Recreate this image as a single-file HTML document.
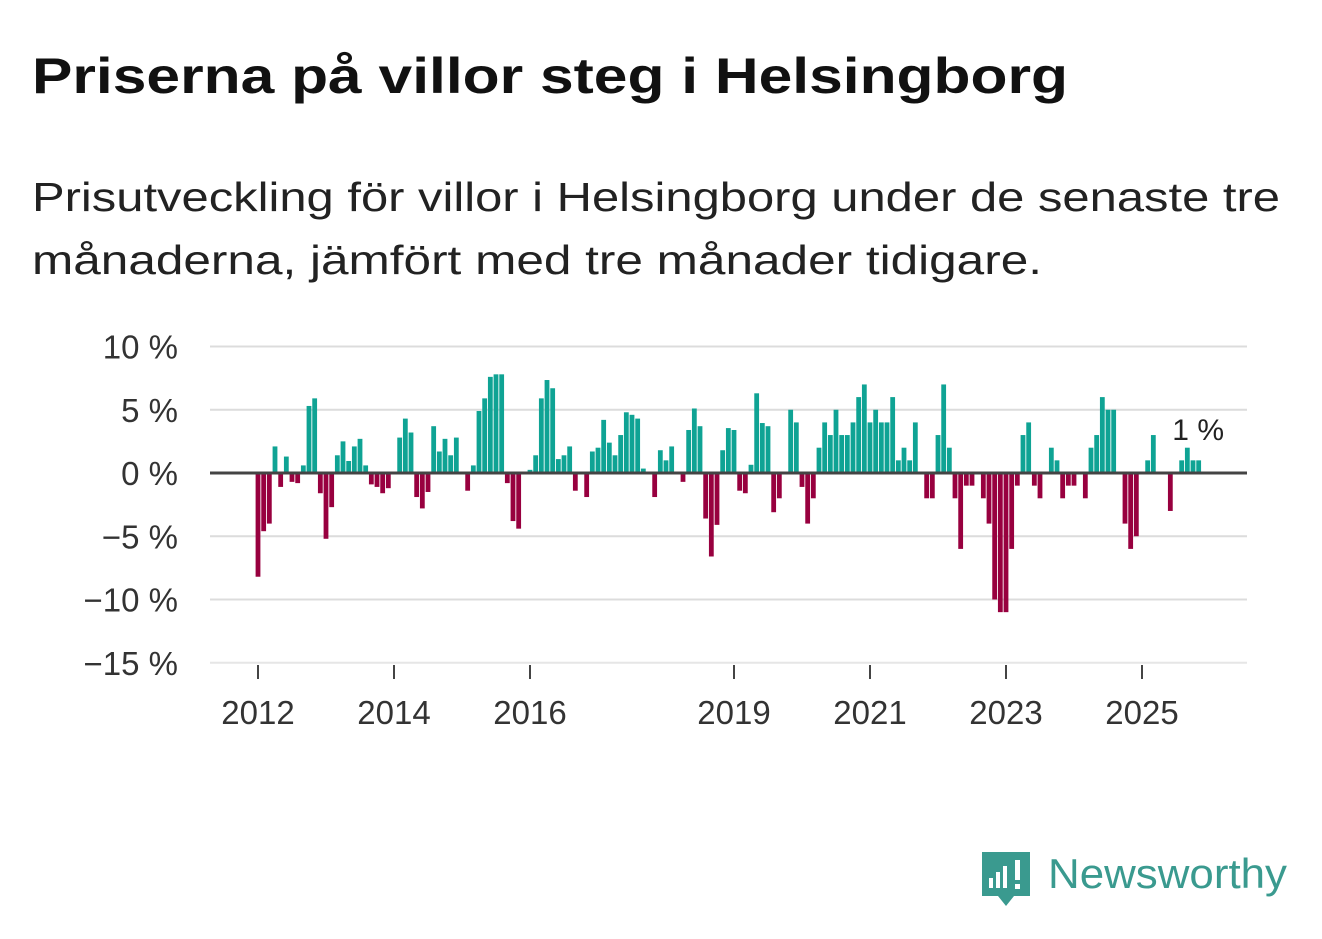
<!DOCTYPE html>
<html><head><meta charset="utf-8"><style>
body{margin:0;background:#fff;}
svg{display:block;font-family:"Liberation Sans",sans-serif;}
</style></head><body>
<svg id="chart" width="1322" height="939" viewBox="0 0 1322 939">
<text x="32" y="93" font-size="50" font-weight="bold" fill="#111" textLength="1036" lengthAdjust="spacingAndGlyphs">Priserna på villor steg i Helsingborg</text>
<text x="32" y="211" font-size="41" fill="#222" textLength="1248" lengthAdjust="spacingAndGlyphs">Prisutveckling för villor i Helsingborg under de senaste tre</text>
<text x="32" y="274" font-size="41" fill="#222" textLength="1010" lengthAdjust="spacingAndGlyphs">månaderna, jämfört med tre månader tidigare.</text>
<g id="grid"></g>
<g id="bars"></g>
<g id="axes"></g>
<text x="1224" y="440" font-size="30" fill="#222" text-anchor="end">1 %</text>
<g>
<path d="M982 852 h48 v44 h-16 l-8 10 l-8 -10 h-16 z" fill="#3a9a8f"/>
<rect x="989" y="878" width="4" height="10" fill="#fff"/>
<rect x="996" y="872" width="4" height="16" fill="#fff"/>
<rect x="1003" y="866" width="4" height="22" fill="#fff"/>
<rect x="1015" y="860" width="5" height="20" fill="#fff"/>
<rect x="1015" y="884" width="5" height="5" fill="#fff"/>
<text x="1048" y="888" font-size="42" fill="#3a9a8f" textLength="239" lengthAdjust="spacingAndGlyphs">Newsworthy</text>
</g>
</svg>
<script>
const values = [-8.2,-4.6,-4.0,2.1,-1.1,1.3,-0.7,-0.8,0.6,5.3,5.9,-1.6,-5.2,-2.7,1.4,2.5,0.95,2.1,2.7,0.6,-0.9,-1.1,-1.6,-1.2,0,2.8,4.3,3.2,-1.9,-2.8,-1.5,3.7,1.7,2.7,1.4,2.8,0,-1.4,0.6,4.9,5.9,7.6,7.8,7.8,-0.8,-3.8,-4.4,0,0.25,1.4,5.9,7.35,6.7,1.1,1.4,2.1,-1.4,0,-1.9,1.7,2.0,4.2,2.4,1.4,3.0,4.8,4.6,4.3,0.35,0,-1.9,1.8,1.0,2.1,0,-0.7,3.4,5.1,3.7,-3.6,-6.6,-4.1,1.8,3.55,3.4,-1.4,-1.6,0.65,6.3,3.95,3.7,-3.1,-2.0,0,5.0,4.0,-1.1,-4.0,-2.0,2.0,4.0,3,5,3,3,4,6,7,4,5,4,4,6,1,2,1,4,0,-2,-2,3,7,2,-2,-6,-1,-1,0,-2,-4,-10,-11,-11,-6,-1,3,4,-1,-2,0,2,1,-2,-1,-1,0,-2,2,3,6,5,5,0,-4,-6,-5,0,1,3,0,0,-3,0,1,2,1,1];
const yTicks = [10,5,0,-5,-10,-15];
const yTickLabels = ["10 %","5 %","0 %","−5 %","−10 %","−15 %"];
const xTickYears = [2012,2014,2016,2019,2021,2023,2025];
const startYear = 2012;
const NS="http://www.w3.org/2000/svg";
function y(v){return 473 - v*12.65;}
function x(monthIndex){return 258 + monthIndex*(68/12);}
function xYear(yr){return x((yr-startYear)*12);}
function mk(tag,attrs,parent){const e=document.createElementNS(NS,tag);for(const k in attrs)e.setAttribute(k,attrs[k]);parent.appendChild(e);return e;}
const grid=document.getElementById('grid'), bars=document.getElementById('bars'), axes=document.getElementById('axes');
yTicks.forEach((t,i)=>{
  if(t!==0){const l=mk('line',{x1:210,x2:1247,y1:y(t),y2:y(t),stroke:t===-15?'#e6e6e6':'#dcdcdc','stroke-width':2},grid);
  
  }
  const tx=mk('text',{x:178,y:y(t)+12,'font-size':33,fill:'#333','text-anchor':'end'},axes);
  tx.textContent=yTickLabels[i];
  
  
});
values.forEach((v,i)=>{
  if(v===0)return;
  const r=mk('rect',{x:x(i)-2.4,width:4.8,y:Math.min(y(v),y(0)),height:Math.abs(y(v)-y(0)),fill:v>0?'#0fa394':'#98003f'},bars);
  
  
});
const z=mk('line',{x1:210,x2:1247,y1:y(0),y2:y(0),stroke:'#444','stroke-width':3},axes);


xTickYears.forEach(yr=>{
  const tk=mk('line',{x1:xYear(yr),x2:xYear(yr),y1:665,y2:679,stroke:'#444','stroke-width':2},axes);
  
  
  const t=mk('text',{x:xYear(yr),y:724,'font-size':33,fill:'#333','text-anchor':'middle'},axes);
  t.textContent=yr;
  
  
});
</script>
</body></html>
